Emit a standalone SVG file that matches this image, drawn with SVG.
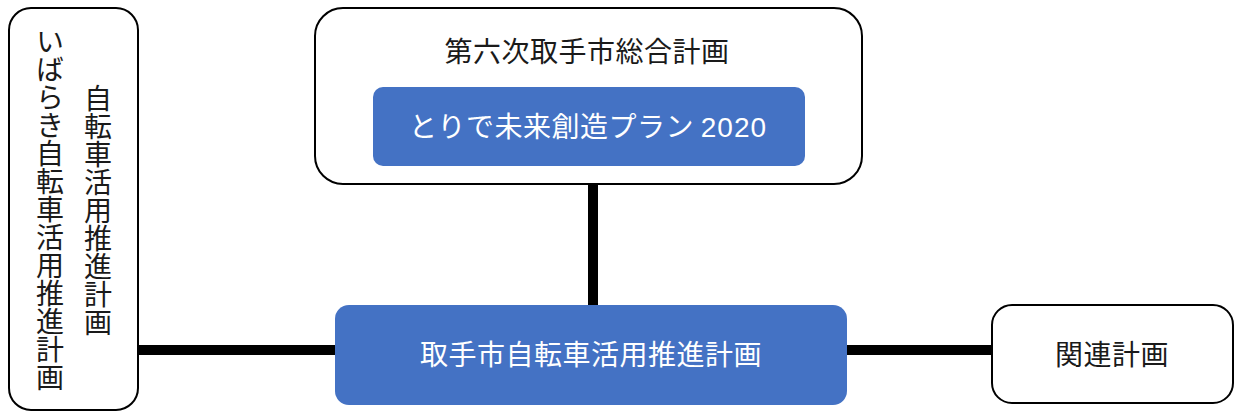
<svg xmlns="http://www.w3.org/2000/svg" width="1234" height="412" viewBox="0 0 1234 412">
<style>
.w{fill:#fff;stroke:#000;stroke-width:2}
.b{fill:#4472C4;stroke:none}
text{font-family:"Noto Sans CJK JP","Noto Sans",sans-serif;font-size:28px;letter-spacing:0.5px}
.dk{fill:#1a1a1a}
.lt{fill:#fff}
.v{writing-mode:vertical-rl;fill:#1a1a1a;letter-spacing:0}
.c{stroke:#000;stroke-width:10;fill:none}
.num{font-family:"Liberation Sans",sans-serif;letter-spacing:1px}
</style>
<g id="connectors">
<line class="c" x1="593" y1="166" x2="593" y2="306"/>
<line class="c" x1="138" y1="350" x2="336" y2="350"/>
<line class="c" x1="846" y1="350" x2="993" y2="350"/>
</g>
<g id="node-ibaraki">
<rect class="w" x="9" y="8" width="129" height="402" rx="22"/>
<text class="v" x="50" y="27">いばらき自転車活用推進計画</text>
<text class="v" x="98" y="84">自転車活用推進計画</text>
</g>
<g id="node-sogo">
<rect class="w" x="315" y="8" width="547" height="176" rx="28"/>
<text class="dk" x="587" y="62" text-anchor="middle">第六次取手市総合計画</text>
</g>
<g id="node-torideplan">
<rect class="b" x="373" y="87" width="432" height="79" rx="10"/>
<text class="lt" x="588" y="137" text-anchor="middle">とりで未来創造プラン <tspan class="num">2020</tspan></text>
</g>
<g id="node-main">
<rect class="b" x="335" y="305" width="512" height="100" rx="14"/>
<text class="lt" x="591" y="365" text-anchor="middle">取手市自転車活用推進計画</text>
</g>
<g id="node-related">
<rect class="w" x="992" y="305" width="241" height="98" rx="20"/>
<text class="dk" x="1112" y="365" text-anchor="middle">関連計画</text>
</g>
</svg>
